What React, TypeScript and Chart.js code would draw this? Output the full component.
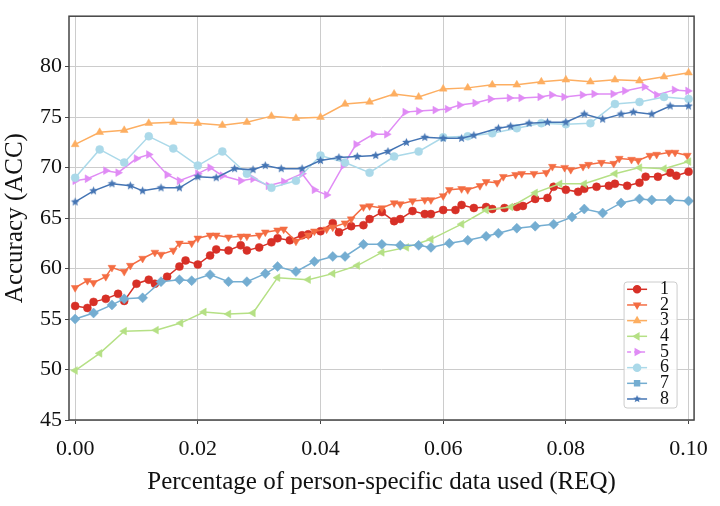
import { useEffect, useRef } from 'react';
import Chart from 'chart.js/auto';
import { drawPoint } from 'chart.js/helpers';

// ---- data ----
const xTickValues = [0, 0.02, 0.04, 0.06, 0.08, 0.1];
const yTickValues = [45, 50, 55, 60, 65, 70, 75, 80];
const seriesLabels = ['1', '2', '3', '4', '5', '6', '7', '8'];

const s1X = [0, 0.002, 0.003, 0.005, 0.007, 0.008, 0.010, 0.012, 0.013, 0.015, 0.017, 0.018, 0.020, 0.022, 0.023, 0.025, 0.027, 0.028, 0.030, 0.032, 0.033, 0.035, 0.037, 0.038, 0.040, 0.042, 0.043, 0.045, 0.047, 0.048, 0.050, 0.052, 0.053, 0.055, 0.057, 0.058, 0.060, 0.062, 0.063, 0.065, 0.067, 0.068, 0.070, 0.072, 0.073, 0.075, 0.077, 0.078, 0.080, 0.082, 0.083, 0.085, 0.087, 0.088, 0.090, 0.092, 0.093, 0.095, 0.097, 0.098, 0.100];
const s1Y = [56.3, 56.1, 56.7, 57.0, 57.5, 56.8, 58.5, 58.9, 58.5, 59.2, 60.2, 60.8, 60.4, 61.3, 61.9, 61.8, 62.3, 61.8, 62.1, 62.6, 63.0, 62.8, 63.3, 63.4, 63.7, 64.5, 63.6, 64.2, 64.3, 64.9, 65.6, 64.7, 64.9, 65.7, 65.4, 65.4, 65.8, 65.8, 66.3, 66.0, 66.1, 65.9, 66.0, 66.1, 66.2, 66.9, 67.0, 68.1, 67.8, 67.6, 67.9, 68.1, 68.2, 68.4, 68.2, 68.5, 69.1, 69.1, 69.5, 69.2, 69.6];

const s2X = [0, 0.002, 0.003, 0.005, 0.006, 0.008, 0.009, 0.011, 0.013, 0.014, 0.016, 0.017, 0.019, 0.020, 0.022, 0.023, 0.025, 0.027, 0.028, 0.030, 0.031, 0.033, 0.034, 0.036, 0.038, 0.039, 0.041, 0.042, 0.044, 0.045, 0.047, 0.048, 0.050, 0.052, 0.053, 0.055, 0.057, 0.058, 0.060, 0.061, 0.063, 0.064, 0.066, 0.067, 0.0688, 0.0698, 0.0718, 0.0728, 0.0748, 0.0768, 0.0778, 0.0798, 0.0808, 0.0828, 0.0837, 0.0858, 0.0878, 0.0887, 0.0907, 0.0918, 0.0937, 0.0948, 0.0968, 0.0978, 0.0998];
const s2Y = [58.1, 58.8, 58.6, 59.2, 60.1, 59.7, 60.3, 61.0, 61.6, 61.4, 61.8, 62.5, 62.5, 63.0, 63.3, 63.3, 63.1, 63.2, 63.2, 63.3, 63.6, 63.8, 63.9, 62.7, 63.3, 63.7, 63.9, 64.1, 64.5, 64.9, 66.1, 66.2, 66.0, 66.5, 66.4, 66.7, 66.8, 66.8, 67.2, 67.8, 67.9, 67.8, 68.2, 68.6, 68.5, 69.1, 69.3, 69.4, 69.4, 69.5, 70.1, 70.0, 69.8, 70.1, 70.3, 70.5, 70.4, 70.9, 70.8, 70.7, 71.2, 71.3, 71.5, 71.5, 71.2];

const s3X = [0, 0.004, 0.008, 0.012, 0.016, 0.020, 0.024, 0.028, 0.032, 0.036, 0.040, 0.044, 0.048, 0.052, 0.056, 0.060, 0.064, 0.068, 0.072, 0.076, 0.080, 0.084, 0.088, 0.092, 0.096, 0.100];
const s3Y = [72.3, 73.5, 73.7, 74.4, 74.5, 74.4, 74.2, 74.5, 75.1, 74.9, 75.0, 76.3, 76.5, 77.3, 77.0, 77.8, 77.9, 78.2, 78.2, 78.5, 78.7, 78.5, 78.7, 78.6, 79.0, 79.4];

const s4X = [0, 0.004, 0.008, 0.0132, 0.0172, 0.021, 0.025, 0.029, 0.033, 0.038, 0.042, 0.046, 0.050, 0.054, 0.058, 0.063, 0.067, 0.071, 0.075, 0.079, 0.083, 0.088, 0.092, 0.096, 0.100];
const s4Y = [49.9, 51.6, 53.8, 53.9, 54.6, 55.7, 55.5, 55.6, 59.1, 58.9, 59.5, 60.3, 61.6, 62.1, 62.9, 64.4, 65.8, 66.1, 67.5, 68.4, 68.4, 69.4, 70.0, 69.9, 70.6];

const s5X = [0, 0.002, 0.005, 0.007, 0.010, 0.012, 0.015, 0.017, 0.020, 0.022, 0.024, 0.027, 0.029, 0.0315, 0.034, 0.037, 0.039, 0.041, 0.0437, 0.0458, 0.0486, 0.0508, 0.0538, 0.056, 0.0587, 0.0607, 0.0627, 0.0652, 0.0677, 0.0708, 0.0727, 0.0758, 0.0777, 0.0797, 0.0827, 0.0846, 0.0877, 0.0896, 0.0928, 0.0948, 0.0977, 0.0999];
const s5Y = [68.7, 68.9, 69.7, 69.5, 70.9, 71.3, 69.3, 68.7, 69.4, 70.0, 69.2, 68.7, 68.9, 68.2, 68.6, 69.4, 67.8, 67.3, 70.2, 72.3, 73.3, 73.3, 75.5, 75.6, 75.7, 75.8, 76.2, 76.4, 76.8, 76.9, 76.9, 77.0, 77.2, 77.0, 77.2, 77.3, 77.3, 77.6, 78.0, 77.2, 77.7, 77.6];

const s6X = [0, 0.004, 0.008, 0.012, 0.016, 0.020, 0.024, 0.028, 0.032, 0.036, 0.040, 0.044, 0.048, 0.052, 0.056, 0.060, 0.064, 0.068, 0.072, 0.076, 0.080, 0.084, 0.088, 0.092, 0.096, 0.100];
const s6Y = [69.0, 71.8, 70.5, 73.1, 71.9, 70.2, 71.6, 69.4, 68.0, 68.7, 71.2, 70.5, 69.5, 71.1, 71.6, 73.0, 73.1, 73.4, 73.9, 74.4, 74.3, 74.4, 76.3, 76.5, 77.0, 76.8];

const s7X = [0, 0.003, 0.006, 0.008, 0.011, 0.014, 0.017, 0.019, 0.022, 0.025, 0.028, 0.031, 0.033, 0.036, 0.039, 0.042, 0.044, 0.047, 0.050, 0.053, 0.056, 0.058, 0.061, 0.064, 0.067, 0.069, 0.072, 0.075, 0.078, 0.081, 0.083, 0.086, 0.089, 0.092, 0.094, 0.097, 0.100];
const s7Y = [55.0, 55.6, 56.4, 57.0, 57.1, 58.7, 58.9, 58.8, 59.4, 58.7, 58.7, 59.5, 60.2, 59.7, 60.7, 61.2, 61.2, 62.4, 62.4, 62.3, 62.3, 62.1, 62.5, 62.8, 63.2, 63.5, 64.0, 64.2, 64.4, 65.1, 65.9, 65.5, 66.5, 66.9, 66.8, 66.8, 66.7];

const s8X = [0, 0.003, 0.006, 0.009, 0.011, 0.014, 0.017, 0.020, 0.023, 0.026, 0.029, 0.031, 0.0336, 0.037, 0.040, 0.043, 0.046, 0.049, 0.051, 0.054, 0.057, 0.060, 0.063, 0.065, 0.069, 0.071, 0.074, 0.077, 0.080, 0.083, 0.086, 0.089, 0.091, 0.094, 0.097, 0.100];
const s8Y = [66.6, 67.7, 68.4, 68.2, 67.7, 68.0, 68.0, 69.1, 69.0, 69.9, 69.8, 70.2, 69.9, 69.9, 70.7, 71.0, 71.1, 71.2, 71.6, 72.5, 73.0, 72.9, 72.9, 73.2, 73.9, 74.1, 74.4, 74.5, 74.5, 75.3, 74.8, 75.3, 75.5, 75.3, 76.1, 76.1];

const seriesX = [s1X, s2X, s3X, s4X, s5X, s6X, s7X, s8X];
const seriesY = [s1Y, s2Y, s3Y, s4Y, s5Y, s6Y, s7Y, s8Y];

// ---- styles ----
const seriesColors = ['#d73027', '#f46d43', '#fdae61', '#b5e085', '#e08cf5', '#abd9e9', '#74add1', '#4575b4'];
const markerStyles = ['circle', 'triangle', 'triangle', 'triangle', 'triangle', 'circle', 'rectRot', 'star'];
const markerRotations = [0, 180, 0, 270, 90, 0, 0, 0];
const markerRadii = [4, 4.5, 4.5, 4.5, 4.5, 4, 5, 4.5];
const legendDash = [[], [], [], [], [4, 3], [], [], []];
const legendStyles = ['circle', 'triangle', 'triangle', 'triangle', 'triangle', 'circle', 'rect', 'star'];

const FONT = '"Liberation Serif", "Times New Roman", serif';

function makeStar(color: string, r: number) {
  const size = Math.ceil(r * 2 + 2);
  const c = document.createElement('canvas');
  c.width = size;
  c.height = size;
  const ctx = c.getContext('2d')!;
  ctx.fillStyle = color;
  ctx.beginPath();
  for (let i = 0; i < 10; i++) {
    const rad = i % 2 ? r * 0.45 : r;
    const a = -Math.PI / 2 + (i * Math.PI) / 5;
    const px = size / 2 + rad * Math.cos(a);
    const py = size / 2 + rad * Math.sin(a);
    if (i) ctx.lineTo(px, py);
    else ctx.moveTo(px, py);
  }
  ctx.closePath();
  ctx.fill();
  return c;
}

// frame around the plot, drawn over the lines like matplotlib spines
const framePlugin = {
  id: 'frame',
  afterDatasetsDraw(chart: any) {
    const { ctx, chartArea: a } = chart;
    ctx.save();
    ctx.strokeStyle = '#444444';
    ctx.lineWidth = 1.5;
    ctx.strokeRect(a.left, a.top, a.right - a.left, a.bottom - a.top);
    ctx.restore();
  },
};

const makeLegendPlugin = (markers: any[]) => ({
  id: 'boxLegend',
  afterDraw(chart: any) {
    const { ctx, chartArea } = chart;
    const left = chartArea.right - 70;
    const top = chartArea.bottom - 138;
    ctx.save();
    ctx.beginPath();
    ctx.roundRect(left, top, 53, 126, 3);
    ctx.fillStyle = 'rgba(255,255,255,0.85)';
    ctx.fill();
    ctx.strokeStyle = '#cccccc';
    ctx.lineWidth = 1;
    ctx.stroke();
    chart.data.datasets.forEach((ds: any, i: number) => {
      const y = top + 7.3 + i * 15.67;
      ctx.strokeStyle = seriesColors[i];
      ctx.fillStyle = seriesColors[i];
      ctx.lineWidth = 1.5;
      ctx.setLineDash(legendDash[i]);
      ctx.beginPath();
      ctx.moveTo(left + 3, y);
      ctx.lineTo(left + 23, y);
      ctx.stroke();
      ctx.setLineDash([]);
      drawPoint(
        ctx,
        { pointStyle: markers[i], rotation: markerRotations[i], radius: 3.5, borderWidth: 0.5 } as any,
        left + 13,
        y,
      );
      ctx.fillStyle = '#111111';
      ctx.font = `18px ${FONT}`;
      ctx.textAlign = 'left';
      ctx.textBaseline = 'middle';
      ctx.fillText(ds.label, left + 36, y);
    });
    ctx.restore();
  },
});

export default function App() {
  const canvasRef = useRef<HTMLCanvasElement>(null);
  const chartRef = useRef<Chart | null>(null);

  useEffect(() => {
    const canvas = canvasRef.current;
    if (!canvas) return;
    chartRef.current?.destroy();

    const star = makeStar(seriesColors[7], 4.5);
    const legendStar = makeStar(seriesColors[7], 4);
    const plotMarkers = markerStyles.map((s) => (s === 'star' ? star : s));
    const legendMarkers = legendStyles.map((s) => (s === 'star' ? legendStar : s));

    const tickFont = { family: FONT, size: 22 };
    const titleFont = { family: FONT, size: 25 };

    chartRef.current = new Chart(canvas, {
      type: 'line',
      data: {
        datasets: seriesLabels.map((label, i) => ({
          label,
          data: seriesX[i].map((x, j) => ({ x, y: seriesY[i][j] })),
          borderColor: seriesColors[i],
          backgroundColor: seriesColors[i],
          pointBackgroundColor: seriesColors[i],
          pointBorderColor: seriesColors[i],
          borderWidth: 1.5,
          pointBorderWidth: 0.5,
          pointRadius: markerRadii[i],
          pointStyle: plotMarkers[i] as any,
          pointRotation: markerRotations[i],
          tension: 0,
          fill: false,
          order: 7 - i,
        })),
      },
      options: {
        animation: false,
        responsive: true,
        maintainAspectRatio: false,
        layout: { padding: { top: 12, right: 22, left: 0, bottom: 0 } },
        plugins: {
          legend: { display: false },
          tooltip: { enabled: false },
        },
        scales: {
          x: {
            type: 'linear',
            min: -0.001,
            max: 0.1009,
            afterBuildTicks: (s: any) => {
              s.ticks = xTickValues.map((value) => ({ value }));
            },
            afterFit: (s: any) => {
              s.height = 86;
            },
            grid: { color: '#cccccc', lineWidth: 1, tickColor: '#444444', tickLength: 4 },
            border: { display: false },
            ticks: {
              color: '#111111',
              font: tickFont,
              padding: 12,
              autoSkip: false,
              maxRotation: 0,
              callback: (v: any) => Number(v).toFixed(2),
            },
            title: {
              display: true,
              text: 'Percentage of person-specific data used (REQ)',
              color: '#111111',
              font: titleFont,
              padding: { top: 0, bottom: 9 },
            },
          },
          y: {
            type: 'linear',
            min: 45,
            max: 85,
            afterBuildTicks: (s: any) => {
              s.ticks = yTickValues.map((value) => ({ value }));
            },
            afterFit: (s: any) => {
              s.width = 69;
            },
            grid: { color: '#cccccc', lineWidth: 1, tickColor: '#444444', tickLength: 4 },
            border: { display: false },
            ticks: {
              color: '#111111',
              font: tickFont,
              padding: 3,
              autoSkip: false,
              callback: (v: any) => String(v),
            },
            title: {
              display: true,
              text: 'Accuracy (ACC)',
              color: '#111111',
              font: titleFont,
              padding: { top: 0, bottom: 0 },
            },
          },
        },
      },
      plugins: [framePlugin, makeLegendPlugin(legendMarkers)],
    });

    return () => {
      chartRef.current?.destroy();
      chartRef.current = null;
    };
  }, []);

  return (
    <div style={{ position: 'fixed', left: 0, top: 0, width: 720, height: 506, background: '#ffffff' }}>
      <canvas ref={canvasRef} />
    </div>
  );
}
